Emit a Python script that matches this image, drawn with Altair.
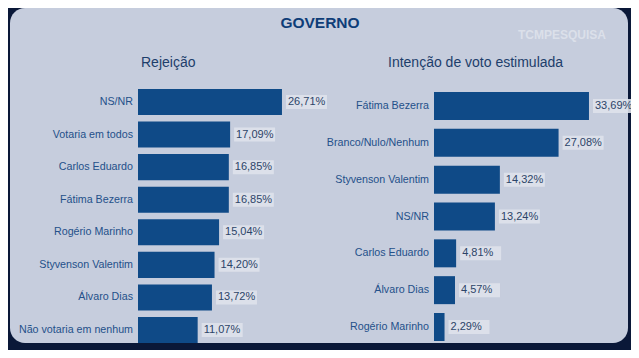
import altair as alt
import pandas as pd

# ---- data ----
cats_rej = ["NS/NR", "Votaria em todos", "Carlos Eduardo", "Fátima Bezerra",
            "Rogério Marinho", "Styvenson Valentim", "Álvaro Dias", "Não votaria em nenhum"]
vals_rej = [26.71, 17.09, 16.85, 16.85, 15.04, 14.20, 13.72, 11.07]

cats_int = ["Fátima Bezerra", "Branco/Nulo/Nenhum", "Styvenson Valentim", "NS/NR",
            "Carlos Eduardo", "Álvaro Dias", "Rogério Marinho"]
vals_int = [33.69, 27.08, 14.32, 13.24, 4.81, 4.57, 2.29]

main_title = "GOVERNO"
title_left = "Rejeição"
title_right = "Intenção de voto estimulada"


def fmt(v):
    return f"{v:.2f}".replace(".", ",") + "%"


df_rej = pd.DataFrame({"cat": cats_rej, "v": vals_rej, "lab": [fmt(v) for v in vals_rej]})
df_int = pd.DataFrame({"cat": cats_int, "v": vals_int, "lab": [fmt(v) for v in vals_int]})

FONT = "Liberation Sans"
BAR = "#0f4a87"
CAT_COLOR = "#24508a"
VAL_COLOR = "#2c4468"
BOX = "#dfe3ec"
PANEL = "#c6cddd"
BG = "#0a1838"

W, H = 623, 342


def panel_block(df, cats, xdom, xrange, yrange, pin, pout, box_units):
    xs = alt.Scale(domain=xdom, range=xrange, nice=False, zero=True)
    ys = alt.Scale(domain=cats, range=yrange, paddingInner=pin, paddingOuter=pout)
    base = alt.Chart(df)
    y = alt.Y("cat:N", scale=ys, axis=None, sort=None)
    bars = base.mark_bar(color=BAR).encode(
        x=alt.X("v:Q", scale=xs, axis=None), y=y)
    boxes = base.transform_calculate(vend=f"datum.v + {box_units}").mark_bar(
        size=14, color=BOX, opacity=0.88, xOffset=4, x2Offset=4).encode(
        x=alt.X("v:Q", scale=xs, axis=None), x2="vend:Q", y=y)
    vals = base.mark_text(align="left", baseline="middle", dx=6, fontSize=11,
                          font=FONT, color=VAL_COLOR).encode(
        x=alt.X("v:Q", scale=xs, axis=None), y=y, text="lab:N")
    cats_t = base.mark_text(align="right", baseline="middle", dx=-5, fontSize=10.7,
                            font=FONT, color=CAT_COLOR).encode(
        x=alt.X(datum=0, type="quantitative", scale=xs, axis=None), y=y, text="cat:N")
    return alt.layer(bars, boxes, vals, cats_t)


left = panel_block(df_rej, cats_rej, [0, 30], [130, 130 + 30 * 5.39],
                   [77.7, 338.3], 0.2, 0.1, 41 / 5.39)
right = panel_block(df_int, cats_int, [0, 35], [426, 426 + 35 * 4.6],
                    [79.6, 337.4], 0.24, 0.12, 41 / 4.6)

one = pd.DataFrame({"a": [0]})
panel = alt.Chart(one).mark_rect(color=PANEL, cornerRadius=15).encode(
    x=alt.value(2), x2=alt.value(620), y=alt.value(0), y2=alt.value(335))

t_main = alt.Chart(pd.DataFrame({"t": [main_title]})).mark_text(
    fontSize=15.5, fontWeight="bold", font=FONT, color="#0f3d78", align="center", baseline="middle"
).encode(x=alt.value(312), y=alt.value(15), text="t:N")
t_left = alt.Chart(pd.DataFrame({"t": [title_left]})).mark_text(
    fontSize=14, font=FONT, color="#1d3e6b", align="left", baseline="middle"
).encode(x=alt.value(133), y=alt.value(55), text="t:N")
t_right = alt.Chart(pd.DataFrame({"t": [title_right]})).mark_text(
    fontSize=14, font=FONT, color="#1d3e6b", align="left", baseline="middle"
).encode(x=alt.value(380), y=alt.value(55), text="t:N")
logo = alt.Chart(pd.DataFrame({"t": ["TCMPESQUISA"]})).mark_text(
    fontSize=12, fontWeight="bold", font=FONT, color="#ffffff", opacity=0.38,
    align="center", baseline="middle"
).encode(x=alt.value(554), y=alt.value(27), text="t:N")

chart = alt.layer(panel, t_main, t_left, t_right, logo, left, right).resolve_scale(
    x="independent", y="independent"
).properties(
    width=W, height=H, padding=0, autosize="none", background=BG
).configure_view(stroke=None)

chart.save("out.html", embed_options={"renderer": "svg", "actions": False})
